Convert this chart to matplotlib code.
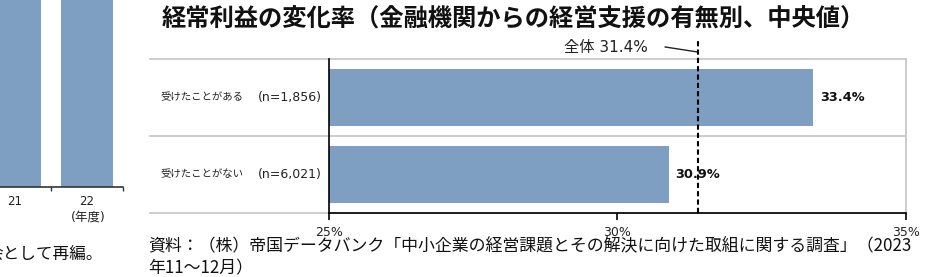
import matplotlib
matplotlib.use("Agg")
import matplotlib.pyplot as plt

plt.rcParams['font.family'] = ['Noto Sans CJK JP', 'DejaVu Sans']

# ---------------- data ----------------
title = "経常利益の変化率（金融機関からの経営支援の有無別、中央値）"
categories = ["受けたことがある", "受けたことがない"]
sample_sizes = ["1,856", "6,021"]
values = [33.4, 30.9]
overall_value = 31.4
overall_label = "全体"
x_ticks = [25, 30, 35]
x_tick_labels = ["25%", "30%", "35%"]
source_line1 = "資料：（株）帝国データバンク「中小企業の経営課題とその解決に向けた取組に関する調査」（2023"
source_line2 = "年11～12月）"

# partial neighbouring chart (cut off on the left of the screenshot)
left_years = ["21", "22"]
left_values = [14.0, 14.5]   # bars run off the top of the crop
left_unit = "(年度)"
left_note = "会として再編。"

BAR = "#7f9fc2"
GRID = "#c8c8c8"

W, H = 952, 277
fig = plt.figure(figsize=(W / 100, H / 100), dpi=100)

def fx(px):
    return px / W

def fy(py):
    return 1 - py / H

# ---------------- left partial chart ----------------
axl = fig.add_axes([fx(-21), fy(187), fx(144), 187 / H + 0.05])
axl.bar(range(len(left_years)), left_values, width=0.72, color=BAR)
axl.set_xlim(-0.5, len(left_years) - 0.5)
axl.set_ylim(0, 12)
for s in ["top", "right", "left"]:
    axl.spines[s].set_visible(False)
axl.spines["bottom"].set_color("#333333")
axl.spines["bottom"].set_linewidth(1.2)
axl.set_yticks([])
axl.set_xticks(range(len(left_years)))
axl.set_xticklabels(left_years, fontsize=8.5, family=['DejaVu Sans'], color="#222222")
axl.tick_params(axis="x", which="major", length=0, pad=6)
axl.set_xticks([i + 0.5 for i in range(-1, len(left_years))], minor=True)
axl.tick_params(axis="x", which="minor", length=3, width=1, color="#333333")
fig.text(fx(88), fy(217), left_unit, ha="center", va="center", fontsize=9,
         family=['DejaVu Sans', 'Noto Sans CJK JP'], color="#222222")
fig.text(fx(103), fy(254), left_note, ha="right", va="center", fontsize=12,
         color="#111111")

# ---------------- main chart ----------------
ax = fig.add_axes([fx(329), fy(213), (905.7 - 329) / W, (213 - 59) / H])
ypos = list(range(len(categories)))
ax.barh(ypos, values, height=0.73, color=BAR, zorder=2)
ax.set_xlim(x_ticks[0], x_ticks[-1])
ax.set_ylim(len(categories) - 0.5, -0.5)

for s in ["top", "right"]:
    ax.spines[s].set_visible(False)
for s in ["left", "bottom"]:
    ax.spines[s].set_color("black")
    ax.spines[s].set_linewidth(1.2)
    ax.spines[s].set_zorder(4)
ax.set_yticks([])
ax.set_xticks(x_ticks)
ax.set_xticklabels(x_tick_labels, fontsize=9, family=['DejaVu Sans'], color="#222222")
ax.tick_params(axis="x", length=5, width=1.2, pad=4)

# category separators extending into the label area
ytr = ax.get_yaxis_transform()
xtr = ax.get_xaxis_transform()
for yb in [-0.5 + i for i in range(len(categories) + 1)]:
    ax.plot([-0.31, 1.0], [yb, yb], transform=ytr, color=GRID, lw=1.3,
            clip_on=False, zorder=1)
ax.plot([1.0, 1.0], [0, 1], transform=ax.transAxes, color=GRID, lw=1.3,
        clip_on=False, zorder=1)

# category labels
for i, (c, n) in enumerate(zip(categories, sample_sizes)):
    ax.text(-0.293, i, c, transform=ytr, ha="left", va="center", fontsize=7.5,
            color="#222222")
    ax.text(-0.012, i, f"(n={n})", transform=ytr, ha="right", va="center",
            fontsize=9, family=['DejaVu Sans'], color="#222222")

# value labels
for i, v in enumerate(values):
    ax.text(v + 0.11, i, f"{v}%", ha="left", va="center", fontsize=9.3,
            fontweight="bold", family=['DejaVu Sans'], color="#111111")

# overall reference line
ax.plot([overall_value, overall_value], [0, 1.123], transform=xtr, color="black",
        lw=1.5, linestyle=(0, (2.5, 1.5)), clip_on=False, zorder=5)
ax.plot([overall_value - 0.57, overall_value], [1.078, 1.045], transform=xtr,
        color="#222222", lw=1, clip_on=False)
ax.text(overall_value - 0.87, 1.075, f"{overall_label} {overall_value}%",
        transform=xtr, ha="right", va="center", fontsize=11,
        family=['DejaVu Sans', 'Noto Sans CJK JP'], color="#222222")

# title & source
fig.text(fx(162), fy(18), title, ha="left", va="center", fontsize=17.5,
         fontweight="bold", color="#111111")
fig.text(fx(148), fy(246), source_line1, ha="left", va="center", fontsize=12.2,
         color="#111111")
fig.text(fx(148), fy(268), source_line2, ha="left", va="center", fontsize=12.2,
         color="#111111")

fig.savefig("out.png", dpi=100)
